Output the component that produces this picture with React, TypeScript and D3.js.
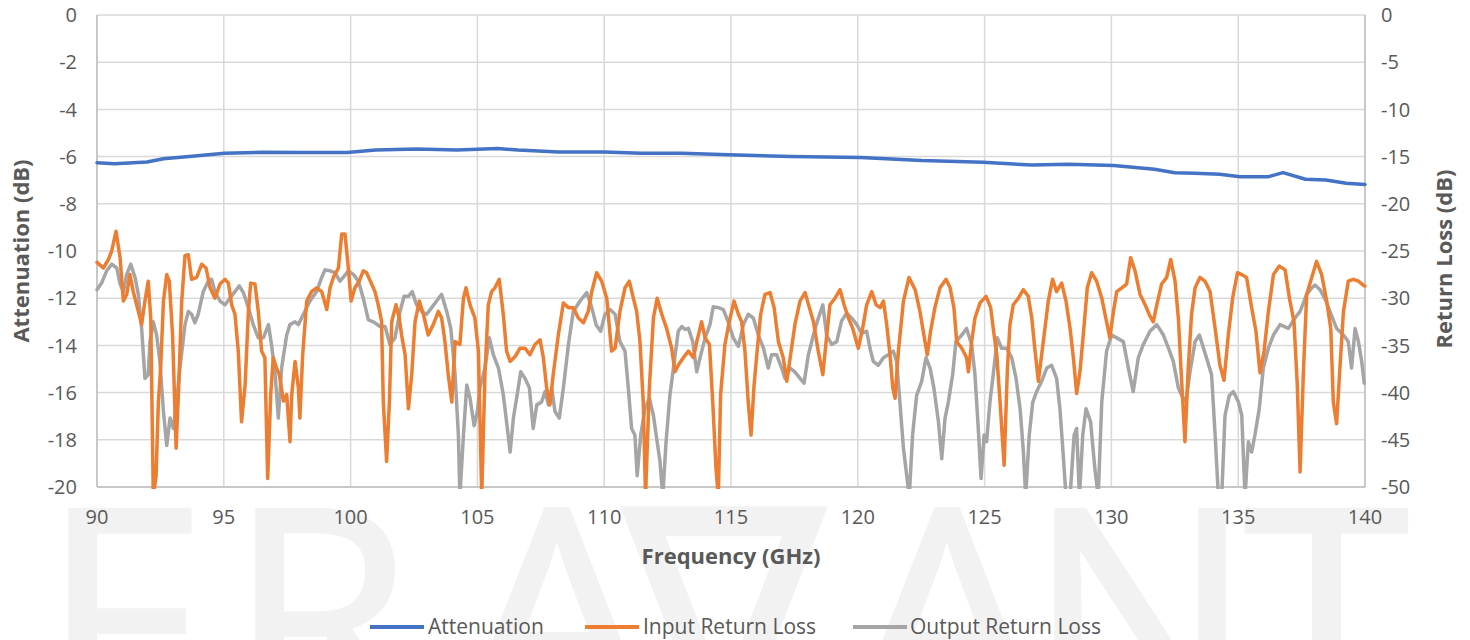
import React from 'react';
import * as d3 from 'd3';

type Pt = [number, number];

// Frequency axis (GHz) and tick labels
const xTicks = [90, 95, 100, 105, 110, 115, 120, 125, 130, 135, 140];
const leftTicks = [0, -2, -4, -6, -8, -10, -12, -14, -16, -18, -20];
const rightTicks = [0, -5, -10, -15, -20, -25, -30, -35, -40, -45, -50];

// Attenuation (dB), left axis
const attenuation: Pt[] = [
  [90.0, -6.26], [90.69, -6.3], [91.97, -6.23], [92.62, -6.09], [93.75, -5.99], [95.03, -5.86],
  [96.5, -5.82], [98.1, -5.83], [99.86, -5.83], [100.99, -5.72], [102.6, -5.68], [104.2, -5.72],
  [105.8, -5.66], [106.6, -5.72], [108.2, -5.8], [110.0, -5.8], [111.45, -5.86], [113.07, -5.86],
  [114.9, -5.92], [117.37, -6.0], [120.11, -6.04], [122.53, -6.17], [124.94, -6.24], [126.87, -6.36],
  [128.32, -6.32], [130.09, -6.38], [131.7, -6.54], [132.5, -6.68], [133.3, -6.71], [134.27, -6.75],
  [135.08, -6.85], [136.2, -6.85], [136.77, -6.68], [137.65, -6.96], [138.46, -6.99], [139.26, -7.13],
  [140.0, -7.18],
];

// Input return loss (dB), right axis
const inputReturnLoss: Pt[] = [
  [90.0, -26.2], [90.25, -26.8], [90.45, -25.9], [90.58, -25.0], [90.75, -22.9], [90.91, -25.7], [91.04, -30.3],
  [91.17, -29.6], [91.3, -27.5], [91.43, -29.3], [91.63, -31.4], [91.76, -32.8], [91.89, -30.3], [92.02, -28.2],
  [92.12, -32.1], [92.22, -51], [92.33, -48.8], [92.42, -41.0], [92.51, -37.4], [92.62, -30.3], [92.75, -27.5],
  [92.85, -28.2], [92.98, -33.9], [93.12, -45.9], [93.22, -39.5], [93.34, -30.3], [93.47, -25.5], [93.6, -25.4],
  [93.73, -28.0], [93.93, -27.8], [94.13, -26.4], [94.3, -26.8], [94.46, -28.9], [94.65, -30.0], [94.85, -28.5],
  [95.05, -28.0], [95.18, -28.4], [95.31, -30.7], [95.44, -31.7], [95.57, -35.6], [95.7, -43.1], [95.84, -39.2],
  [95.97, -31.4], [96.06, -28.4], [96.23, -28.5], [96.36, -31.4], [96.49, -35.6], [96.62, -36.3], [96.73, -49.1],
  [96.85, -40.2], [96.95, -36.3], [97.08, -37.4], [97.19, -38.1], [97.35, -40.9], [97.48, -40.2], [97.61, -45.2],
  [97.68, -40.2], [97.81, -36.7], [97.94, -39.5], [98.0, -42.7], [98.11, -36.0], [98.27, -30.3], [98.46, -29.3],
  [98.66, -28.9], [98.86, -29.3], [99.06, -31.2], [99.19, -28.9], [99.32, -27.8], [99.52, -26.8], [99.65, -23.2],
  [99.78, -23.2], [99.91, -26.8], [100.02, -30.3], [100.17, -28.9], [100.34, -28.2], [100.5, -27.1], [100.63, -27.3],
  [100.83, -28.5], [100.96, -29.3], [101.09, -30.7], [101.22, -32.4], [101.29, -41.0], [101.42, -47.3], [101.53, -41.0],
  [101.62, -32.5], [101.79, -30.7], [101.92, -32.1], [102.01, -33.9], [102.15, -36.0], [102.28, -41.7], [102.41, -38.1],
  [102.54, -32.5], [102.71, -30.3], [102.87, -31.7], [103.06, -33.9], [103.26, -32.8], [103.46, -31.4], [103.59, -32.1],
  [103.72, -34.6], [103.85, -38.1], [103.99, -41.0], [104.12, -34.6], [104.31, -34.9], [104.45, -30.0], [104.55, -28.9],
  [104.71, -30.7], [104.9, -32.1], [105.04, -35.6], [105.17, -51], [105.3, -37.8], [105.43, -30.7], [105.56, -29.3],
  [105.69, -28.9], [105.86, -28.0], [106.02, -31.7], [106.15, -35.6], [106.29, -36.7], [106.48, -36.2], [106.68, -35.3],
  [106.88, -35.3], [107.07, -36.0], [107.27, -34.9], [107.47, -34.4], [107.6, -36.3], [107.73, -39.5], [107.86, -41.3],
  [107.99, -38.1], [108.19, -33.9], [108.39, -30.5], [108.59, -31.0], [108.78, -31.0], [108.98, -32.1], [109.18, -32.6],
  [109.37, -31.4], [109.51, -29.3], [109.7, -27.3], [109.9, -28.2], [110.1, -30.0], [110.29, -35.6], [110.43, -35.3],
  [110.62, -31.4], [110.82, -28.9], [110.99, -28.2], [111.15, -30.0], [111.28, -31.4], [111.41, -34.6], [111.54, -41.0],
  [111.63, -51], [111.78, -39.5], [111.94, -32.1], [112.09, -30.0], [112.27, -31.7], [112.46, -33.2], [112.66, -35.3],
  [112.79, -37.8], [112.92, -37.1], [113.12, -36.3], [113.32, -35.6], [113.52, -36.3], [113.65, -34.6], [113.84, -32.5],
  [113.98, -34.2], [114.15, -34.9], [114.28, -41.0], [114.41, -48.1], [114.5, -51], [114.59, -40.2], [114.76, -34.9],
  [114.93, -32.5], [115.12, -30.3], [115.29, -31.7], [115.42, -32.5], [115.55, -35.6], [115.68, -41.0], [115.79, -44.5],
  [115.91, -39.2], [116.04, -35.3], [116.17, -31.7], [116.34, -29.6], [116.54, -29.4], [116.7, -31.0], [116.87, -34.6],
  [117.06, -36.3], [117.2, -38.8], [117.35, -36.0], [117.52, -32.8], [117.72, -30.3], [117.92, -29.4], [118.09, -31.0],
  [118.25, -32.5], [118.44, -35.6], [118.62, -38.1], [118.75, -34.6], [118.9, -30.7], [119.1, -30.0], [119.3, -29.1],
  [119.46, -30.7], [119.63, -32.1], [119.8, -33.2], [120.02, -35.3], [120.19, -33.2], [120.35, -30.7], [120.55, -29.3],
  [120.72, -30.7], [120.88, -31.0], [121.01, -30.3], [121.14, -32.8], [121.27, -36.0], [121.38, -39.5], [121.47, -40.6],
  [121.6, -35.6], [121.8, -30.3], [122.02, -27.8], [122.26, -29.1], [122.45, -31.4], [122.65, -34.6], [122.74, -36.0],
  [122.87, -33.5], [123.04, -31.0], [123.24, -28.9], [123.48, -28.0], [123.64, -28.9], [123.79, -31.0], [123.9, -34.6],
  [124.1, -35.3], [124.29, -36.3], [124.36, -37.8], [124.49, -34.6], [124.62, -32.1], [124.82, -30.5], [125.06, -29.8],
  [125.24, -31.0], [125.34, -33.2], [125.48, -36.0], [125.61, -41.0], [125.77, -47.7], [125.9, -37.4], [126.0, -32.8],
  [126.13, -30.7], [126.33, -30.0], [126.53, -29.1], [126.72, -29.8], [126.86, -32.1], [126.99, -35.6], [127.12, -38.8],
  [127.25, -36.0], [127.38, -33.2], [127.51, -30.3], [127.68, -28.0], [127.84, -29.3], [128.04, -28.4], [128.21, -30.3],
  [128.37, -33.2], [128.5, -36.3], [128.63, -40.1], [128.76, -37.8], [128.89, -33.9], [129.05, -28.9], [129.22, -27.3],
  [129.42, -28.2], [129.62, -30.0], [129.81, -32.5], [129.94, -34.2], [130.08, -31.4], [130.21, -29.3], [130.41, -28.9],
  [130.6, -28.5], [130.76, -25.7], [130.93, -27.1], [131.13, -29.6], [131.33, -30.7], [131.52, -31.9], [131.65, -32.5],
  [131.79, -30.7], [131.98, -28.5], [132.18, -27.8], [132.34, -25.9], [132.51, -28.2], [132.64, -32.1], [132.77, -38.8],
  [132.9, -45.2], [133.03, -37.4], [133.16, -31.7], [133.3, -28.9], [133.49, -27.8], [133.69, -28.2], [133.89, -29.3],
  [134.09, -33.2], [134.28, -37.1], [134.44, -38.7], [134.61, -33.9], [134.78, -30.0], [134.97, -27.3], [135.14, -27.5],
  [135.33, -27.8], [135.53, -31.0], [135.7, -33.5], [135.86, -37.9], [136.02, -35.6], [136.19, -31.4], [136.39, -27.5],
  [136.62, -26.6], [136.85, -27.0], [137.02, -30.0], [137.2, -32.5], [137.33, -39.2], [137.44, -48.4], [137.57, -37.9],
  [137.7, -29.6], [137.9, -27.8], [138.09, -26.1], [138.29, -27.5], [138.49, -30.3], [138.65, -33.2], [138.75, -41.0],
  [138.88, -43.3], [139.01, -37.4], [139.15, -31.4], [139.34, -28.2], [139.54, -28.0], [139.74, -28.2], [139.97, -28.7],
  [140.0, -28.7],
];

// Output return loss (dB), right axis
const outputReturnLoss: Pt[] = [
  [90.0, -29.1], [90.18, -28.4], [90.38, -27.1], [90.58, -26.4], [90.78, -26.8], [90.91, -28.5], [91.04, -29.3],
  [91.17, -27.5], [91.33, -26.4], [91.5, -27.8], [91.63, -29.6], [91.76, -33.2], [91.89, -38.5], [92.02, -38.1],
  [92.09, -34.6], [92.22, -32.5], [92.35, -33.9], [92.48, -36.7], [92.62, -42.0], [92.75, -45.6], [92.88, -42.7],
  [93.01, -43.8], [93.14, -41.0], [93.27, -37.4], [93.47, -32.8], [93.6, -31.4], [93.73, -31.7], [93.86, -32.6],
  [93.99, -31.7], [94.19, -29.3], [94.39, -28.2], [94.52, -28.0], [94.65, -29.3], [94.85, -30.3], [95.05, -30.7],
  [95.24, -30.0], [95.44, -29.3], [95.61, -28.7], [95.77, -29.4], [95.97, -31.0], [96.16, -32.8], [96.36, -34.2],
  [96.56, -34.2], [96.76, -32.8], [96.89, -35.1], [97.02, -37.9], [97.15, -42.7], [97.28, -37.4], [97.48, -33.9],
  [97.61, -32.8], [97.81, -32.5], [97.94, -32.8], [98.14, -31.7], [98.4, -30.3], [98.66, -29.3], [98.86, -27.8],
  [98.99, -27.0], [99.19, -27.1], [99.38, -27.3], [99.58, -28.2], [99.71, -27.8], [99.91, -27.1], [100.12, -27.5],
  [100.31, -28.2], [100.5, -30.0], [100.7, -32.3], [100.9, -32.5], [101.16, -33.0], [101.36, -33.0], [101.55, -34.9],
  [101.75, -34.2], [101.95, -31.4], [102.11, -29.8], [102.28, -29.8], [102.43, -29.3], [102.6, -30.7], [102.8, -31.4],
  [103.0, -31.7], [103.2, -31.0], [103.39, -30.3], [103.59, -29.6], [103.79, -31.4], [103.95, -33.2], [104.12, -38.1],
  [104.25, -44.5], [104.31, -51], [104.45, -44.5], [104.58, -39.2], [104.71, -40.6], [104.87, -43.5], [105.0, -42.0],
  [105.1, -39.5], [105.3, -37.4], [105.47, -34.2], [105.63, -36.0], [105.83, -37.4], [106.02, -40.2], [106.15, -43.1],
  [106.29, -46.3], [106.42, -42.7], [106.57, -40.2], [106.71, -37.8], [106.88, -38.5], [107.05, -39.5], [107.2, -43.8],
  [107.34, -41.3], [107.53, -41.0], [107.67, -39.9], [107.8, -41.3], [107.93, -39.5], [108.06, -42.0], [108.23, -42.7],
  [108.39, -39.5], [108.59, -34.9], [108.78, -31.4], [109.05, -30.3], [109.31, -29.4], [109.51, -31.0], [109.68, -32.8],
  [109.86, -33.5], [110.03, -31.7], [110.23, -31.2], [110.43, -31.7], [110.62, -34.6], [110.82, -35.6], [110.95, -39.5],
  [111.08, -43.8], [111.21, -44.5], [111.3, -48.8], [111.44, -44.5], [111.61, -41.7], [111.78, -40.6], [111.94, -42.4],
  [112.07, -44.9], [112.2, -47.3], [112.31, -51], [112.44, -45.2], [112.59, -40.3], [112.73, -37.4], [112.92, -33.5],
  [113.06, -33.0], [113.19, -33.3], [113.32, -33.2], [113.49, -34.6], [113.65, -37.8], [113.78, -36.3], [113.98, -34.2],
  [114.17, -32.8], [114.3, -30.9], [114.5, -31.0], [114.7, -31.2], [114.9, -32.6], [115.09, -34.2], [115.29, -35.1],
  [115.49, -32.8], [115.68, -31.7], [115.88, -32.1], [116.08, -33.9], [116.28, -35.3], [116.47, -37.4], [116.6, -36.0],
  [116.8, -36.0], [117.0, -37.4], [117.13, -38.5], [117.33, -37.4], [117.52, -37.8], [117.72, -38.5], [117.88, -39.0],
  [118.05, -36.0], [118.25, -33.9], [118.41, -32.4], [118.62, -30.7], [118.77, -33.9], [118.97, -34.9], [119.17, -34.6],
  [119.36, -32.4], [119.56, -31.6], [119.76, -32.1], [119.96, -32.8], [120.15, -33.7], [120.35, -33.5], [120.48, -35.3],
  [120.61, -36.7], [120.81, -37.1], [121.01, -36.3], [121.2, -36.0], [121.4, -35.6], [121.53, -36.7], [121.66, -41.0],
  [121.8, -45.9], [121.93, -48.8], [122.03, -51], [122.16, -44.5], [122.32, -40.3], [122.52, -38.8], [122.69, -36.3],
  [122.85, -37.4], [123.0, -39.5], [123.18, -43.1], [123.31, -47.0], [123.44, -42.7], [123.57, -41.0], [123.74, -38.1],
  [123.87, -34.6], [124.1, -33.9], [124.29, -33.2], [124.49, -34.9], [124.62, -38.1], [124.75, -43.8], [124.86, -49.1],
  [124.98, -44.5], [125.08, -45.2], [125.21, -41.0], [125.34, -38.1], [125.5, -34.2], [125.67, -35.3], [125.87, -35.3],
  [126.07, -36.3], [126.24, -38.5], [126.4, -41.7], [126.53, -46.3], [126.62, -51], [126.76, -44.5], [126.9, -41.0],
  [127.05, -39.9], [127.25, -38.8], [127.45, -37.4], [127.64, -37.1], [127.84, -38.5], [127.97, -41.7], [128.1, -46.6],
  [128.21, -51], [128.37, -51], [128.53, -44.5], [128.63, -43.8], [128.74, -51], [128.87, -44.5], [129.0, -41.7],
  [129.18, -43.1], [129.35, -48.1], [129.48, -51], [129.62, -41.0], [129.81, -35.6], [130.01, -33.9], [130.21, -34.2],
  [130.47, -34.6], [130.67, -37.4], [130.86, -39.9], [131.06, -36.3], [131.26, -34.9], [131.52, -33.5], [131.79, -32.8],
  [132.05, -33.9], [132.25, -35.3], [132.44, -36.7], [132.64, -39.5], [132.77, -40.3], [132.94, -41.0], [133.1, -37.8],
  [133.3, -34.6], [133.47, -33.9], [133.76, -36.4], [133.95, -38.1], [134.09, -44.5], [134.22, -51], [134.35, -51],
  [134.48, -42.4], [134.65, -40.3], [134.81, -39.9], [135.01, -41.0], [135.14, -42.4], [135.27, -51], [135.4, -45.2],
  [135.53, -46.3], [135.66, -44.5], [135.83, -41.7], [135.99, -37.4], [136.19, -35.3], [136.39, -33.9], [136.65, -32.8],
  [136.98, -33.2], [137.24, -32.1], [137.44, -31.4], [137.7, -29.6], [137.9, -28.9], [138.03, -28.6], [138.23, -29.1],
  [138.46, -30.3], [138.69, -31.9], [138.88, -33.2], [139.15, -33.9], [139.34, -34.6], [139.47, -37.4], [139.61, -33.2],
  [139.74, -34.6], [139.87, -36.7], [139.97, -39.0],
];

const seriesNames = ['Attenuation', 'Input Return Loss', 'Output Return Loss'];
const seriesColors = ['#4472C4', '#ED7D31', '#A5A5A5'];

const watermarkLetters = ['F', 'R', 'A', '\u2207', 'A', 'N', 'T'];
const watermarkX = [41, 228, 462, 724, 852, 1027, 1244];

const W = 1470;
const H = 640;
const PL = 97;
const PR = 1365;
const PT = 15;
const PB = 487;
const TEXT = '#595959';
const FONT = "'Open Sans', 'DejaVu Sans', sans-serif";

export default function App() {
  const x = d3.scaleLinear().domain([90, 140]).range([PL, PR]);
  const yL = d3.scaleLinear().domain([-20, 0]).range([PB, PT]);
  const yR = d3.scaleLinear().domain([-50, 0]).range([PB, PT]);
  const lineL = d3.line<Pt>().x((d) => x(d[0])).y((d) => yL(d[1]));
  const lineR = d3.line<Pt>().x((d) => x(d[0])).y((d) => yR(d[1]));

  const legendItems = [
    { name: seriesNames[0], color: seriesColors[0], x0: 370, tx: 428 },
    { name: seriesNames[1], color: seriesColors[1], x0: 585, tx: 643 },
    { name: seriesNames[2], color: seriesColors[2], x0: 853, tx: 910 },
  ];

  return (
    <svg
      width={W}
      height={H}
      style={{ position: 'absolute', left: 0, top: 0, background: '#fff' }}
      fontFamily={FONT}
    >
      <defs>
        <clipPath id="plotClip">
          <rect x={PL - 2} y={PT - 2} width={PR - PL + 4} height={PB - PT + 4} />
        </clipPath>
      </defs>
      <rect x={0} y={0} width={W} height={H} fill="#fff" />

      {/* watermark */}
      <g fill="#f2f2f2" stroke="#f2f2f2" strokeWidth={4} strokeLinejoin="miter">
        {watermarkLetters.map((ch, i) => (
          <text
            key={i}
            x={watermarkX[i]}
            y={724}
            fontSize={300}
            textAnchor={ch === '\u2207' ? 'middle' : 'start'}
            fontFamily={ch === '\u2207' ? "'DejaVu Sans', sans-serif" : "'Open Sans', sans-serif"}
          >
            {ch}
          </text>
        ))}
      </g>

      {/* gridlines */}
      <g stroke="#D9D9D9" strokeWidth={1.5}>
        {leftTicks.map((t) => (
          <line key={'h' + t} x1={PL} x2={PR} y1={yL(t)} y2={yL(t)} />
        ))}
        {xTicks.map((t) => (
          <line key={'v' + t} x1={x(t)} x2={x(t)} y1={PT} y2={PB} />
        ))}
      </g>
      {/* axis lines */}
      <g stroke="#BFBFBF" strokeWidth={1.5}>
        <line x1={PL} x2={PR} y1={PB} y2={PB} />
        <line x1={PL} x2={PL} y1={PT} y2={PB} />
        <line x1={PR} x2={PR} y1={PT} y2={PB} />
      </g>

      {/* series */}
      <g clipPath="url(#plotClip)" fill="none" strokeLinejoin="round" strokeLinecap="round">
        <path d={lineR(outputReturnLoss) || ''} stroke={seriesColors[2]} strokeWidth={3.5} />
        <path d={lineR(inputReturnLoss) || ''} stroke={seriesColors[1]} strokeWidth={3.5} />
        <path d={lineL(attenuation) || ''} stroke={seriesColors[0]} strokeWidth={3.5} />
      </g>

      {/* tick labels */}
      <g fill={TEXT} fontSize={20}>
        {leftTicks.map((t) => (
          <text key={'l' + t} x={77} y={yL(t)} dy="0.36em" textAnchor="end">
            {t}
          </text>
        ))}
        {rightTicks.map((t) => (
          <text key={'r' + t} x={1381} y={yR(t)} dy="0.36em" textAnchor="start">
            {t}
          </text>
        ))}
        {xTicks.map((t) => (
          <text key={'x' + t} x={x(t)} y={524} textAnchor="middle">
            {t}
          </text>
        ))}
      </g>

      {/* axis titles */}
      <g fill={TEXT} fontSize={22} fontWeight="bold">
        <text x={(PL + PR) / 2} y={564} textAnchor="middle">
          Frequency (GHz)
        </text>
        <text transform="translate(29,251) rotate(-90)" textAnchor="middle">
          Attenuation (dB)
        </text>
        <text transform="translate(1452,259) rotate(-90)" textAnchor="middle">
          Return Loss (dB)
        </text>
      </g>

      {/* legend */}
      <g fontSize={21} fill={TEXT}>
        {legendItems.map((it) => (
          <g key={it.name}>
            <line x1={it.x0} x2={it.x0 + 54} y1={627} y2={627} stroke={it.color} strokeWidth={4} />
            <text x={it.tx} y={634}>
              {it.name}
            </text>
          </g>
        ))}
      </g>
    </svg>
  );
}
